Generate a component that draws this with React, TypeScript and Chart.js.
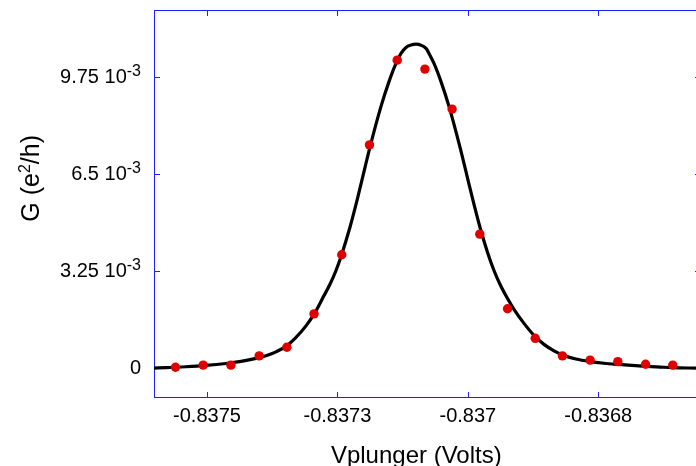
import React, { useEffect, useRef } from "react";
import { Chart, registerables } from "chart.js";

Chart.register(...registerables);

// Axis ticks
const xTicks = [-0.83752, -0.83728, -0.83704, -0.8368];
const xTickLabels = ["-0.8375", "-0.8373", "-0.837", "-0.8368"];
const yTicks = [0, 0.00325, 0.0065, 0.00975];
const yTickMantissas = ["0", "3.25 10", "6.5 10", "9.75 10"];
const yTickExponents = ["", "-3", "-3", "-3"];

// Measured points (Vplunger in Volts, G in e^2/h)
const measuredV = [
  -0.837578, -0.837527, -0.837476, -0.837424, -0.837373, -0.837323, -0.837272,
  -0.837221, -0.83717, -0.837119, -0.837069, -0.837018, -0.836967, -0.836916,
  -0.836866, -0.836815, -0.836764, -0.836713, -0.836663,
];
const measuredG = [
  0.00003, 0.0001, 0.0001, 0.00041, 0.0007, 0.00182, 0.0038, 0.00748, 0.01032,
  0.01002, 0.00868, 0.00449, 0.00199, 0.001, 0.00041, 0.00027, 0.00022,
  0.00013, 0.0001,
];

// Fitted curve
const fitV = [
  -0.8376175, -0.8375954, -0.8375586, -0.8375218, -0.837485, -0.8374574,
  -0.8374298, -0.8374114, -0.837393, -0.8373746, -0.8373562, -0.8373378,
  -0.8373194, -0.8373066, -0.8372937, -0.8372826, -0.8372716, -0.8372569,
  -0.8372458, -0.837233, -0.8372201, -0.8371998, -0.8371851, -0.8371722,
  -0.837163, -0.8371538, -0.8371446, -0.8371354, -0.8371262, -0.837117,
  -0.8371115, -0.8371023, -0.8370894, -0.8370747, -0.8370545, -0.8370416,
  -0.8370287, -0.8370177, -0.837003, -0.8369919, -0.8369809, -0.836968,
  -0.8369551, -0.8369367, -0.8369183, -0.8368999, -0.8368815, -0.8368631,
  -0.836841, -0.8368153, -0.8367895, -0.8367637, -0.836738, -0.8367122,
  -0.8366865, -0.8366626, -0.8366202,
];
const fitG = [
  0, 0.00002, 0.000047, 0.00009, 0.000157, 0.000228, 0.000328, 0.000419,
  0.000546, 0.00073, 0.001032, 0.001417, 0.00192, 0.002365, 0.002811, 0.003273,
  0.003836, 0.00472, 0.005484, 0.006446, 0.007407, 0.008771, 0.009601,
  0.010211, 0.010546, 0.010747, 0.010824, 0.010854, 0.010821, 0.010714,
  0.010546, 0.010211, 0.009601, 0.008771, 0.007407, 0.006446, 0.005484,
  0.00472, 0.003836, 0.003273, 0.002811, 0.002365, 0.00197, 0.001501, 0.001099,
  0.000797, 0.00058, 0.000425, 0.000305, 0.000221, 0.000164, 0.000124, 0.00009,
  0.00006, 0.000037, 0.000017, 0,
];

const xMin = -0.8376175;
const xMax = -0.8366202;
const xFrameRight = -0.836611; // the plot frame continues just past the picture's right edge
const yMin = -0.001;
const yMax = 0.012;

const FONT = "'Liberation Sans', Arial, sans-serif";
const FRAME = "#1f1fff";

const framePlugin = {
  id: "frame",
  beforeDatasetsDraw(chart: any) {
    const { ctx, chartArea: a, scales } = chart;
    const xs = scales.x;
    const ys = scales.y;
    const right = xs.getPixelForValue(xFrameRight);
    ctx.save();
    ctx.strokeStyle = FRAME;
    ctx.lineWidth = 1;
    ctx.strokeRect(a.left + 0.5, a.top + 0.5, right - a.left - 1, a.bottom - a.top - 1);
    ctx.beginPath();
    xTicks.forEach((v) => {
      const px = Math.round(xs.getPixelForValue(v)) + 0.5;
      ctx.moveTo(px, a.bottom);
      ctx.lineTo(px, a.bottom - 6);
      ctx.moveTo(px, a.top);
      ctx.lineTo(px, a.top + 6);
    });
    yTicks.forEach((v) => {
      const py = Math.round(ys.getPixelForValue(v)) + 0.5;
      ctx.moveTo(a.left, py);
      ctx.lineTo(a.left + 6, py);
      ctx.moveTo(right, py);
      ctx.lineTo(right - 6, py);
    });
    ctx.stroke();
    ctx.restore();
  },
  afterDraw(chart: any) {
    const { ctx, scales } = chart;
    const ys = scales.y;
    ctx.save();
    ctx.fillStyle = "#000";
    ctx.textBaseline = "alphabetic";
    ctx.textAlign = "left";
    const rightEdge = 141;
    yTicks.forEach((v, i) => {
      const py = ys.getPixelForValue(v);
      const base = py + 6;
      ctx.font = `16px ${FONT}`;
      const supW = yTickExponents[i] ? ctx.measureText(yTickExponents[i]).width : 0;
      ctx.font = `20px ${FONT}`;
      const mainW = ctx.measureText(yTickMantissas[i]).width;
      const x0 = rightEdge - supW - mainW;
      ctx.fillText(yTickMantissas[i], x0, base);
      if (yTickExponents[i]) {
        ctx.font = `16px ${FONT}`;
        ctx.fillText(yTickExponents[i], x0 + mainW, base - 7);
      }
    });

    // Y axis title: G (e^2/h)
    const parts = [
      { t: "G (e", size: 25, raise: 0 },
      { t: "2", size: 16, raise: 9 },
      { t: "/h)", size: 25, raise: 0 },
    ];
    let total = 0;
    parts.forEach((p) => {
      ctx.font = `${p.size}px ${FONT}`;
      total += ctx.measureText(p.t).width;
    });
    ctx.translate(38.5, 178.3);
    ctx.rotate(-Math.PI / 2);
    let cx = -total / 2;
    parts.forEach((p) => {
      ctx.font = `${p.size}px ${FONT}`;
      ctx.fillText(p.t, cx, -p.raise);
      cx += ctx.measureText(p.t).width;
    });
    ctx.setTransform(1, 0, 0, 1, 0, 0);

    // X axis title
    ctx.font = `24px ${FONT}`;
    ctx.textAlign = "center";
    ctx.fillText("Vplunger (Volts)", 416.3, 463);
    ctx.restore();
  },
};

export default function App() {
  const canvasRef = useRef<HTMLCanvasElement | null>(null);

  useEffect(() => {
    const canvas = canvasRef.current;
    if (!canvas) return;
    const chart = new Chart(canvas, {
      type: "scatter",
      data: {
        datasets: [
          {
            label: "data",
            data: measuredV.map((v, i) => ({ x: v, y: measuredG[i] })),
            backgroundColor: "#e00000",
            borderColor: "#e00000",
            pointRadius: 4.7,
            pointBorderWidth: 0,
            showLine: false,
            order: 0,
          },
          {
            label: "fit",
            type: "line",
            data: fitV.map((v, i) => ({ x: v, y: fitG[i] })),
            borderColor: "#000",
            borderWidth: 3.2,
            pointRadius: 0,
            fill: false,
            cubicInterpolationMode: "monotone",
            order: 1,
          } as any,
        ],
      },
      options: {
        animation: false,
        responsive: false,
        maintainAspectRatio: false,
        devicePixelRatio: 1,
        layout: { autoPadding: false, padding: { left: 0, right: 0, top: 10, bottom: 0 } },
        plugins: {
          legend: { display: false },
          tooltip: { enabled: false },
        },
        scales: {
          x: {
            type: "linear",
            min: xMin,
            max: xMax,
            grid: { display: false, drawTicks: false },
            border: { display: false },
            afterBuildTicks: (scale: any) => {
              scale.ticks = xTicks.map((v) => ({ value: v }));
            },
            afterFit: (scale: any) => {
              scale.height = 68;
              scale.paddingLeft = 0;
              scale.paddingRight = 0;
            },
            ticks: {
              autoSkip: false,
              maxRotation: 0,
              minRotation: 0,
              padding: 6,
              color: "#000",
              font: { family: FONT, size: 20 },
              callback: (_v: any, i: number) => xTickLabels[i],
            },
          },
          y: {
            type: "linear",
            min: yMin,
            max: yMax,
            grid: { display: false, drawTicks: false },
            border: { display: false },
            afterBuildTicks: (scale: any) => {
              scale.ticks = yTicks.map((v) => ({ value: v }));
            },
            afterFit: (scale: any) => {
              scale.width = 154;
              scale.paddingTop = 0;
              scale.paddingBottom = 0;
            },
            ticks: { display: false },
          },
        },
      },
      plugins: [framePlugin],
    });
    return () => chart.destroy();
  }, []);

  return (
    <div
      style={{
        position: "absolute",
        left: 0,
        top: 0,
        width: 696,
        height: 466,
        overflow: "hidden",
        background: "#fff",
      }}
    >
      <canvas ref={canvasRef} width={696} height={466} style={{ display: "block" }} />
    </div>
  );
}
